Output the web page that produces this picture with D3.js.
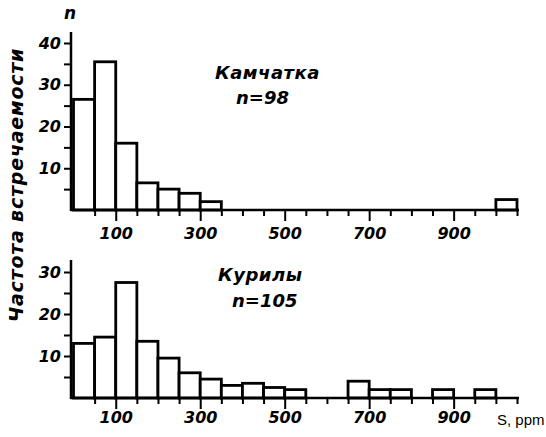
<!DOCTYPE html>
<html><head><meta charset="utf-8">
<script src="https://cdn.jsdelivr.net/npm/d3@7"></script>
<style>
body{margin:0;background:#fff;}
svg text{font-family:"DejaVu Sans",sans-serif;font-style:italic;font-weight:bold;fill:#000;}
</style></head>
<body><svg id="c" width="546" height="437"></svg>
<script>
// Data (bin lower edges, S ppm; bin width 50) and frequencies
const binWidth = 50;
const kamchatkaBins = [0, 50, 100, 150, 200, 250, 300, 1000];
const kamchatkaValues = [26.5, 35.5, 16, 6.5, 5, 4, 2, 2.5];
const kurilyBins = [0, 50, 100, 150, 200, 250, 300, 350, 400, 450, 500, 650, 700, 750, 850, 950];
const kurilyValues = [13, 14.5, 27.5, 13.5, 9.5, 6, 4.5, 3, 3.5, 2.5, 2, 4, 2, 2, 2, 2];
const xTickLabels = [100, 300, 500, 700, 900];
const topYTicks = [10, 20, 30, 40];
const botYTicks = [10, 20, 30];

const svg = d3.select("#c");
const x = d3.scaleLinear().domain([0, 1050]).range([73.5, 517]);

function panel(cfg) {
  const y = d3.scaleLinear().domain([0, cfg.ymax]).range([cfg.y0, cfg.yTop]);
  const g = svg.append("g");
  // bars
  g.selectAll("rect.bar").data(cfg.bins.map((b, i) => ({b, v: cfg.values[i]})))
    .enter().append("rect").attr("class", "bar")
    .attr("x", d => x(d.b)).attr("width", d => x(d.b + binWidth) - x(d.b))
    .attr("y", d => y(d.v)).attr("height", d => y(0) - y(d.v))
    .attr("fill", "#fff").attr("stroke", "#000").attr("stroke-width", 2.8);
  // x axis
  const xa = d3.axisBottom(x).tickValues(d3.range(50, 1051, 50))
    .tickSize(5).tickSizeOuter(0)
    .tickFormat(d => xTickLabels.includes(d) ? d : "");
  const gx = g.append("g").attr("transform", `translate(0,${y(0)})`).call(xa);
  gx.select(".domain").attr("stroke-width", 2.5).attr("d", `M${x(0)-3},0H${x(1050)+2}`);
  gx.selectAll(".tick line").attr("stroke-width", 2)
    .attr("y2", d => xTickLabels.includes(d) ? 11 : 6);
  gx.selectAll(".tick text").attr("y", cfg.labelDy).attr("font-size", 16)
    .style("font-family", "DejaVu Sans").style("font-style", "italic").style("font-weight", "bold");
  // y axis
  const ya = d3.axisLeft(y).tickValues(d3.range(5, cfg.ymax + 1, 5)).tickSize(7).tickSizeOuter(0)
    .tickFormat(d => cfg.yTicks.includes(d) ? d : "");
  const gy = g.append("g").attr("transform", `translate(${x(0)-2.5},0)`).call(ya);
  gy.select(".domain").attr("stroke-width", 2.5).attr("d", `M0,${y(0)+1}V${cfg.axisTop}`);
  gy.selectAll(".tick line").attr("stroke-width", 2);
  gy.selectAll(".tick text").attr("x", -10).attr("font-size", 16)
    .style("font-family", "DejaVu Sans").style("font-style", "italic").style("font-weight", "bold");
  // labels
  g.append("text").attr("x", cfg.nameX).attr("y", cfg.nameY).attr("font-size", 18)
    .attr("letter-spacing", 0.5).text(cfg.name);
  g.append("text").attr("x", cfg.nX).attr("y", cfg.nY).attr("font-size", 18).text(cfg.nText);
}

panel({bins: kamchatkaBins, values: kamchatkaValues, ymax: 40, y0: 210, yTop: 43, axisTop: 32,
  yTicks: topYTicks, labelDy: 18, name: "Камчатка", nameX: 215, nameY: 79, nText: "n=98", nX: 236, nY: 104});
panel({bins: kurilyBins, values: kurilyValues, ymax: 30, y0: 398, yTop: 272, axisTop: 260,
  yTicks: botYTicks, labelDy: 14, name: "Курилы", nameX: 218, nameY: 281, nText: "n=105", nX: 232, nY: 307});

svg.append("text").attr("x", 64).attr("y", 19).attr("font-size", 17).text("n");
svg.append("text").attr("x", 497).attr("y", 425).attr("font-size", 15)
  .style("font-family", "Liberation Sans").style("font-style", "normal").style("font-weight", "normal")
  .text("S, ppm");
svg.append("text").attr("transform", "translate(23,185) rotate(-90)").attr("text-anchor", "middle")
  .attr("font-size", 19).attr("letter-spacing", 0.8).text("Частота встречаемости");
</script></body></html>
